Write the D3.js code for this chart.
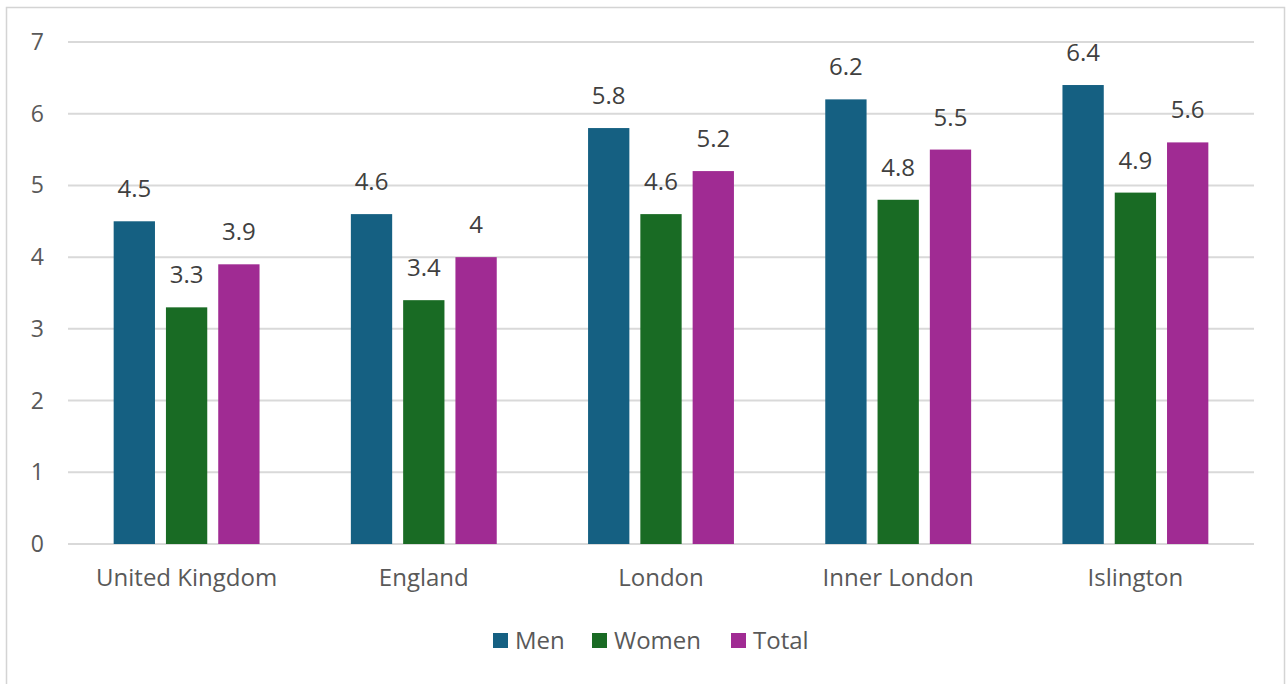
<!DOCTYPE html>
<html>
<head>
<meta charset="utf-8">
<script src="https://cdn.jsdelivr.net/npm/d3@7"></script>
<style>
  body { margin: 0; background: #fff; }
  svg { display: block; font-family: "Open Sans", "Noto Sans", sans-serif; }
</style>
</head>
<body>
<svg id="chart" width="1287" height="684"></svg>
<script>
const categories = ["United Kingdom", "England", "London", "Inner London", "Islington"]
const seriesNames = ["Men", "Women", "Total"]
const men = [4.5, 4.6, 5.8, 6.2, 6.4]
const women = [3.3, 3.4, 4.6, 4.8, 4.9]
const total = [3.9, 4, 5.2, 5.5, 5.6]
const yTicks = [0, 1, 2, 3, 4, 5, 6, 7]
const colors = ["#156082", "#196B24", "#A02B93"]

const svg = d3.select("#chart")

// outer frame
svg.append("rect")
  .attr("x", 6.5).attr("y", 7.5)
  .attr("width", 1278).attr("height", 690)
  .attr("fill", "none").attr("stroke", "#d4d4d4").attr("stroke-width", 1.5)

const x0 = d3.scaleBand()
  .domain(categories)
  .range([68, 1254])
  .paddingInner(0.385)
  .paddingOuter(0.1925)

const x1 = d3.scaleBand()
  .domain(seriesNames)
  .range([0, x0.bandwidth()])
  .paddingInner(0.21)

const y = d3.scaleLinear().domain([0, 7]).range([544, 42])

// gridlines
svg.append("g")
  .selectAll("line")
  .data(yTicks)
  .join("line")
  .attr("x1", 68).attr("x2", 1254)
  .attr("y1", d => y(d)).attr("y2", d => y(d))
  .attr("stroke", "#d9d9d9").attr("stroke-width", 2)

// y labels
svg.append("g")
  .selectAll("text")
  .data(yTicks)
  .join("text")
  .attr("x", 44).attr("y", d => y(d))
  .attr("dy", "0.35em")
  .attr("text-anchor", "end")
  .attr("font-size", 23)
  .attr("fill", "#595959")
  .text(d => d)

const rows = categories.map((c, i) => ({ cat: c, vals: [men[i], women[i], total[i]] }))

const groups = svg.append("g")
  .selectAll("g")
  .data(rows)
  .join("g")
  .attr("transform", d => `translate(${x0(d.cat)},0)`)

groups.selectAll("rect")
  .data(d => d.vals.map((v, k) => ({ s: seriesNames[k], v: v, k: k })))
  .join("rect")
  .attr("x", d => x1(d.s))
  .attr("y", d => y(d.v))
  .attr("width", x1.bandwidth())
  .attr("height", d => y(0) - y(d.v))
  .attr("fill", d => colors[d.k])

groups.selectAll("text")
  .data(d => d.vals.map((v, k) => ({ s: seriesNames[k], v: v })))
  .join("text")
  .attr("x", d => x1(d.s) + x1.bandwidth() / 2)
  .attr("y", d => y(d.v) - 24)
  .attr("text-anchor", "middle")
  .attr("font-size", 24)
  .attr("fill", "#404040")
  .text(d => d.v)

// category labels
svg.append("g")
  .selectAll("text")
  .data(categories)
  .join("text")
  .attr("x", d => x0(d) + x0.bandwidth() / 2)
  .attr("y", 586)
  .attr("text-anchor", "middle")
  .attr("font-size", 24)
  .attr("fill", "#595959")
  .text(d => d)

// legend
const legendX = [493, 592, 731]
const legend = svg.append("g")
  .selectAll("g")
  .data(seriesNames)
  .join("g")
  .attr("transform", (d, i) => `translate(${legendX[i]},633)`)

legend.append("rect")
  .attr("width", 15).attr("height", 15)
  .attr("fill", (d, i) => colors[i])

legend.append("text")
  .attr("x", 22).attr("y", 7.5)
  .attr("dy", "0.35em")
  .attr("font-size", 24)
  .attr("fill", "#595959")
  .text(d => d)
</script>
</body>
</html>
